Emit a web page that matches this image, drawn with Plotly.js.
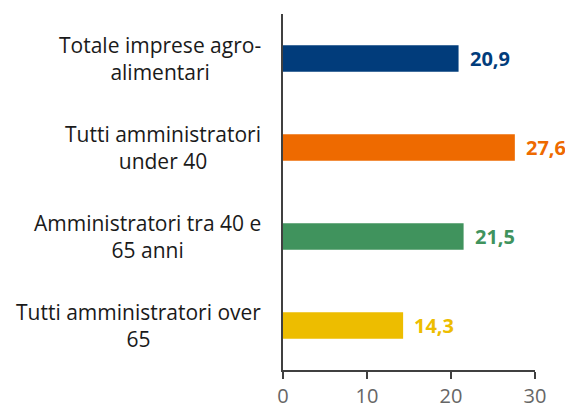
<!DOCTYPE html>
<html>
<head>
<meta charset="utf-8">
<script src="https://cdn.plot.ly/plotly-3.0.1.min.js"></script>
<style>html,body{margin:0;padding:0;background:#fff;}#chart{width:565px;height:410px;}</style>
</head>
<body>
<div id="chart"></div>
<script>
var categories = ["Totale imprese agro-<br>alimentari", "Tutti amministratori<br>under 40", "Amministratori tra 40 e<br>65 anni", "Tutti amministratori over<br>65"];
var values = [20.9, 27.6, 21.5, 14.3];
var colors = ["#013C7B", "#EE6A00", "#40935D", "#EDBD00"];
var xTicks = [0, 10, 20, 30];

var trace = {
  type: "bar",
  orientation: "h",
  x: values,
  y: categories,
  width: 0.3,
  marker: {color: colors},
  hoverinfo: "none"
};

var annotations = [];
categories.forEach(function (c, i) {
  annotations.push({
    xref: "paper", yref: "y", x: 0, y: c,
    xanchor: "right", yanchor: "middle", xshift: -20,
    align: "center", showarrow: false, text: c,
    font: {family: "'Open Sans', sans-serif", size: 21, color: "#1a1a1a"}
  });
  annotations.push({
    xref: "x", yref: "y", x: values[i], y: c,
    xanchor: "left", yanchor: "middle", xshift: 9,
    showarrow: false, text: values[i].toFixed(1).replace(".", ","),
    font: {family: "'Open Sans', sans-serif", size: 20, color: colors[i], weight: "bold"}
  });
});

var layout = {
  width: 565, height: 410,
  margin: {l: 283, r: 30, t: 14, b: 40},
  paper_bgcolor: "#fff", plot_bgcolor: "#fff",
  showlegend: false,
  separators: ",.",
  xaxis: {
    range: [0, 30], tickvals: xTicks, ticktext: xTicks.map(String),
    showgrid: false, zeroline: false,
    showline: true, linecolor: "#404040", linewidth: 2,
    ticks: "outside", ticklen: 7, tickwidth: 2, tickcolor: "#404040",
    tickfont: {family: "'Open Sans', sans-serif", size: 20, color: "#666666"},
    fixedrange: true
  },
  yaxis: {
    categoryorder: "array", categoryarray: categories.slice(),
    autorange: "reversed",
    showticklabels: false, showgrid: false, zeroline: false,
    showline: true, linecolor: "#404040", linewidth: 2,
    ticks: "", fixedrange: true
  },
  annotations: annotations
};

Plotly.newPlot("chart", [trace], layout, {displayModeBar: false, staticPlot: true});
</script>
</body>
</html>
